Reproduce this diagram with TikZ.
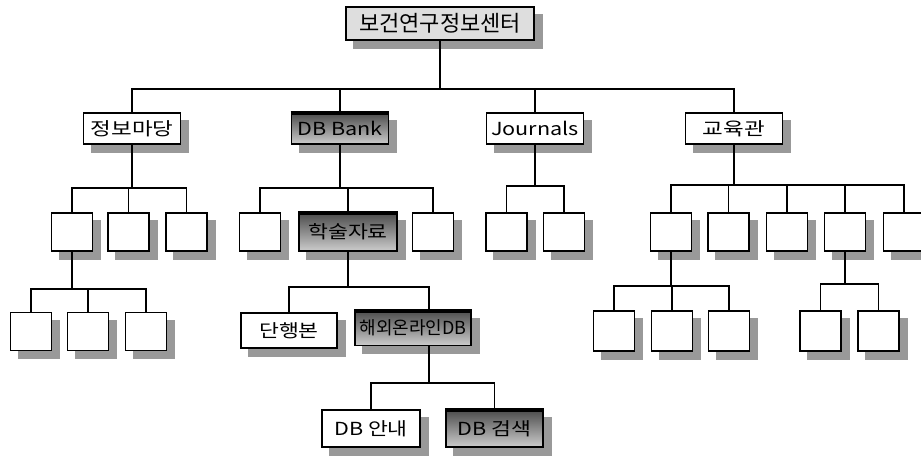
\documentclass[tikz,border=0pt]{standalone}
\usepackage{fontspec}
\usepackage{graphicx}
\newfontfamily\kr{Noto Sans CJK KR}
\usetikzlibrary{backgrounds}
\newcommand{\wtxt}[2]{\scalebox{#1}[1]{#2}}
\begin{document}
\begin{tikzpicture}[x=1pt,y=-1pt,
  box/.style={draw=black, line width=1.3pt, fill=white, inner sep=0pt,
    font=\kr\fontsize{18}{18}\selectfont},
  hi/.style={box, line width=1.7pt, top color=black!70, bottom color=black!20},
  sq/.style={box, minimum width=41pt, minimum height=38pt},
  lvone/.style={minimum width=97pt, minimum height=31pt},
  shadowfill/.style={fill=black!40},
  topbar/.style={draw=black, line width=4pt},
  link/.style={draw=black, line width=1.3pt}]
\useasboundingbox (0,0) rectangle (921,457);
% level 0
\node[box, fill=black!13, minimum width=188pt, minimum height=33pt,
  font=\kr\fontsize{22}{22}\selectfont] (top) at (440,23.5) {보건연구정보센터};
% level 1
\node[box, lvone] (jb) at (132,128.5) {\wtxt{1.25}{정보마당}};
\node[hi, lvone] (db) at (340,128.5) {\wtxt{1.2}{DB Bank}};
\node[box, lvone] (jn) at (535,128.5) {\wtxt{1.2}{Journals}};
\node[box, lvone] (ed) at (734,128.5) {\wtxt{1.25}{교육관}};
% level 2
\node[sq] (jb1) at (72,232) {};
\node[sq] (jb2) at (128.5,232) {};
\node[sq] (jb3) at (186.5,232) {};
\node[sq] (db1) at (260,232) {};
\node[hi, minimum width=98pt, minimum height=38pt] (hs) at (348,232) {\wtxt{1.2}{학술자료}};
\node[sq] (db3) at (433,232) {};
\node[sq] (jn1) at (506.5,232) {};
\node[sq] (jn2) at (564,232) {};
\node[sq] (ed1) at (671,232) {};
\node[sq] (ed2) at (728.5,232) {};
\node[sq] (ed3) at (787,232) {};
\node[sq] (ed4) at (845,232) {};
\node[sq] (ed5) at (904,232) {};
% level 3
\node[sq] (a1) at (31,331.5) {};
\node[sq] (a2) at (88,331.5) {};
\node[sq] (a3) at (146,331.5) {};
\node[box, minimum width=96pt, minimum height=35pt] (dh) at (289,330.5) {\wtxt{1.2}{단행본}};
\node[hi, minimum width=116pt, minimum height=35pt] (hw) at (413,328) {해외온라인DB};
\node[sq, minimum height=40pt] (e1) at (614,331) {};
\node[sq, minimum height=40pt] (e2) at (672,331) {};
\node[sq, minimum height=40pt] (e3) at (729,331) {};
\node[sq, minimum height=40pt] (f1) at (820.5,331) {};
\node[sq, minimum height=40pt] (f2) at (878.5,331) {};
% level 4
\node[box, minimum width=98pt, minimum height=37pt] (da) at (371,428.5) {\wtxt{1.2}{DB 안내}};
\node[hi, minimum width=97pt, minimum height=37pt] (dg) at (494.5,428.5) {\wtxt{1.2}{DB 검색}};
% shadows
\begin{scope}[on background layer]
\foreach \n in {top,jb,db,jn,ed,jb1,jb2,jb3,db1,hs,db3,jn1,jn2,ed1,ed2,ed3,ed4,ed5,a1,a2,a3,dh,hw,e1,e2,e3,f1,f2,da,dg}
  \fill[shadowfill] ([xshift=8pt,yshift=-8pt]\n.south west) rectangle ([xshift=8pt,yshift=-8pt]\n.north east);
\end{scope}
% thick top edges of highlighted boxes
\foreach \n in {db,hs,hw,dg}
  \draw[topbar] ([yshift=-1.2pt]\n.north west) -- ([yshift=-1.2pt]\n.north east);
% bus points
\coordinate (tb) at (440,89);
\coordinate (jbb) at (132,188);
\coordinate (dbb) at (340,188);
\coordinate (jnb) at (535,186);
\coordinate (edb) at (734,185);
\coordinate (jb1b) at (72,289);
\coordinate (hsb) at (348,287);
\coordinate (ed1b) at (671,286);
\coordinate (ed4b) at (845,284);
\coordinate (hwb) at (429,383);
% connectors
\draw[link] (top.south) -- (tb);
\foreach \c in {jb,db,jn,ed} \draw[link] (tb) -| (\c.north);
\draw[link] (jb.south) -- (jbb);
\foreach \c in {jb1,jb2,jb3} \draw[link] (jbb) -| (\c.north);
\draw[link] (db.south) -- (dbb);
\foreach \c in {db1,hs,db3} \draw[link] (dbb) -| (\c.north);
\draw[link] (jn.south) -- (jnb);
\foreach \c in {jn1,jn2} \draw[link] (jnb) -| (\c.north);
\draw[link] (ed.south) -- (edb);
\foreach \c in {ed1,ed2,ed3,ed4,ed5} \draw[link] (edb) -| (\c.north);
\draw[link] (jb1.south) -- (jb1b);
\foreach \c in {a1,a2,a3} \draw[link] (jb1b) -| (\c.north);
\draw[link] (hs.south) -- (hsb);
\draw[link] (hsb) -| (dh.north);
\draw[link] (hsb) -| ([xshift=16pt]hw.north);
\draw[link] (ed1.south) -- (ed1b);
\foreach \c in {e1,e2,e3} \draw[link] (ed1b) -| (\c.north);
\draw[link] (ed4.south) -- (ed4b);
\foreach \c in {f1,f2} \draw[link] (ed4b) -| (\c.north);
\draw[link] ([xshift=16pt]hw.south) -- (hwb);
\foreach \c in {da,dg} \draw[link] (hwb) -| (\c.north);
\end{tikzpicture}
\end{document}
